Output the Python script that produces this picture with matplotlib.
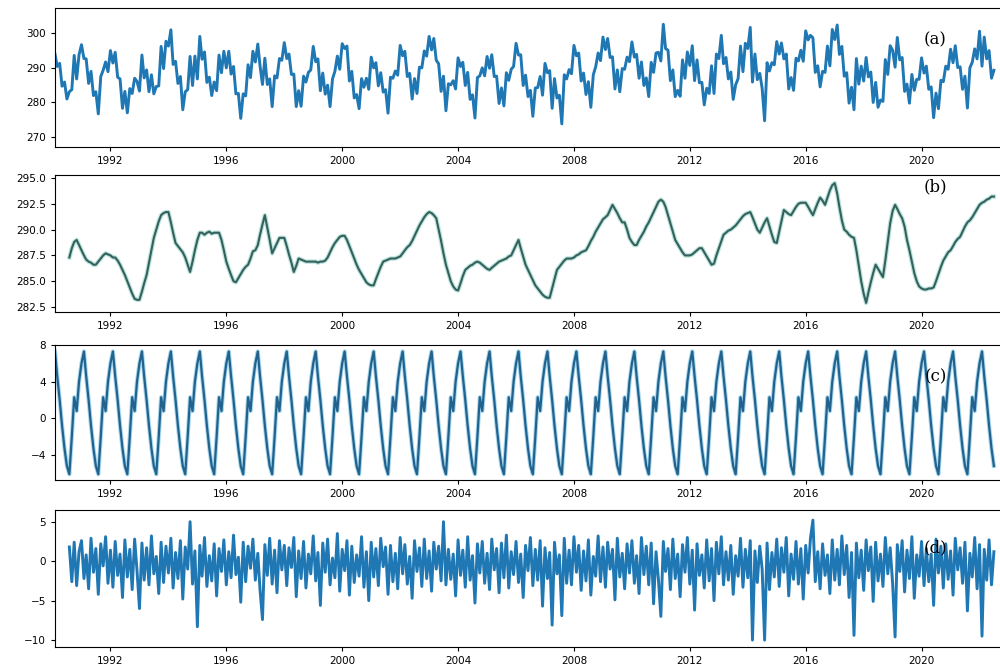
import numpy as np
import pandas as pd
import matplotlib
matplotlib.use('Agg')
import matplotlib.pyplot as plt
import matplotlib.dates as mdates

# monthly series, Feb 1990 .. Jul 2022
dates = pd.date_range('1990-02-01', periods=390, freq='MS')

# seasonal profile by calendar month (Jan..Dec)
season_profile = [6.0, 7.3, 4.6, 2.0, -0.8, -3.3, -5.2, -6.1, -2.0, 2.3, 0.8, 4.0]

# trend, Aug 1990 .. Jul 2022
trend_values = [
    287.3, 288.2, 288.8, 289.0, 288.5,
    288.0, 287.5, 287.1, 286.9, 286.8, 286.6, 286.6, 286.9, 287.2, 287.5, 287.7, 287.6,
    287.5, 287.3, 287.3, 287.0, 286.6, 286.1, 285.6, 285.0, 284.4, 283.8, 283.3, 283.2,
    283.2, 284.0, 284.8, 285.6, 286.8, 288.0, 289.2, 290.0, 290.8, 291.4, 291.6, 291.7,
    291.7, 290.7, 289.7, 288.7, 288.4, 288.1, 287.8, 287.3, 286.6, 285.9, 286.9, 288.0,
    289.0, 289.7, 289.7, 289.5, 289.7, 289.8, 289.6, 289.7, 289.7, 289.7, 289.0, 288.0,
    286.9, 286.2, 285.6, 285.0, 284.9, 285.3, 285.7, 286.1, 286.4, 286.6, 287.2, 287.9,
    288.0, 288.5, 289.5, 290.5, 291.4, 290.2, 289.0, 287.7, 288.2, 288.7, 289.2, 289.2,
    289.2, 288.4, 287.6, 286.8, 285.9, 286.5, 287.2, 287.1, 287.0, 286.9, 286.9, 286.9,
    286.9, 286.9, 286.8, 286.9, 286.9, 287.0, 287.3, 287.8, 288.3, 288.7, 289.0, 289.3,
    289.4, 289.4, 289.0, 288.4, 287.8, 287.2, 286.6, 286.1, 285.7, 285.3, 284.9, 284.7,
    284.6, 284.6, 285.2, 285.8, 286.4, 286.9, 287.0, 287.1, 287.2, 287.2, 287.2, 287.3,
    287.4, 287.7, 288.0, 288.3, 288.5, 288.9, 289.4, 289.9, 290.4, 290.8, 291.2, 291.5,
    291.7, 291.6, 291.4, 291.1, 290.0, 288.9, 287.7, 286.6, 285.8, 285.0, 284.5, 284.2,
    284.1, 284.8, 285.5, 286.1, 286.3, 286.5, 286.6, 286.8, 286.9, 286.8, 286.6, 286.4,
    286.2, 286.1, 286.3, 286.5, 286.7, 286.9, 287.0, 287.1, 287.2, 287.4, 287.5, 288.0,
    288.5, 289.0, 288.2, 287.4, 286.6, 286.1, 285.6, 285.1, 284.6, 284.3, 284.0, 283.7,
    283.5, 283.4, 283.4, 284.3, 285.2, 286.1, 286.4, 286.7, 287.0, 287.2, 287.2, 287.2,
    287.3, 287.5, 287.6, 287.8, 287.9, 288.0, 288.4, 288.9, 289.3, 289.8, 290.2, 290.6,
    291.0, 291.2, 291.4, 291.9, 292.4, 292.0, 291.6, 291.1, 290.7, 290.7, 290.0, 289.2,
    288.8, 288.5, 288.5, 289.0, 289.4, 289.8, 290.3, 290.7, 291.2, 291.7, 292.2, 292.7,
    292.9, 292.7, 292.2, 291.4, 290.6, 289.8, 289.0, 288.6, 288.2, 287.8, 287.5, 287.5,
    287.5, 287.6, 287.8, 288.0, 288.2, 288.2, 287.8, 287.4, 287.0, 286.6, 286.7, 287.5,
    288.2, 288.9, 289.5, 289.7, 289.9, 290.0, 290.2, 290.4, 290.7, 291.0, 291.3, 291.5,
    291.6, 291.7, 291.2, 290.6, 290.0, 289.7, 290.2, 290.7, 291.1, 290.3, 289.5, 288.8,
    288.7, 289.8, 290.8, 291.9, 291.7, 291.5, 291.4, 291.8, 292.2, 292.5, 292.6, 292.6,
    292.6, 292.2, 291.8, 291.4, 292.0, 292.6, 293.1, 292.8, 292.4, 293.1, 293.8, 294.3,
    294.5, 293.5, 292.2, 290.9, 290.0, 289.8, 289.5, 289.3, 289.2, 288.0, 286.5, 285.0,
    283.8, 282.9, 283.9, 284.9, 285.8, 286.6, 286.2, 285.8, 285.4, 287.0, 288.8, 290.6,
    291.8, 292.4, 292.0, 291.5, 291.1, 290.3, 289.0, 288.0, 286.9, 285.8, 285.0, 284.5,
    284.3, 284.2, 284.2, 284.3, 284.3, 284.4, 285.0, 285.7, 286.4, 287.0, 287.4, 287.8,
    288.0, 288.4, 288.8, 289.1, 289.3, 289.8, 290.3, 290.7, 290.9, 291.2, 291.6, 292.0,
    292.4, 292.6, 292.7, 292.9, 293.0, 293.2, 293.2,
]

# residual, Aug 1990 .. Jul 2022
resid_values = [
    1.8, -2.6, 2.4, -3.1, 1.2,
    2.6, -2.2, 0.8, -3.5, 2.9, -1.4, 1.6, -4.2, 2.2, -0.6, 3.1, -2.8,
    1.4, -3.3, 2.5, -1.8, 0.9, -4.6, 2.7, -2.0, 1.5, -3.6, 2.8, -1.2,
    -6.0, 2.3, -2.4, 1.7, -3.0, 3.2, -1.6, 0.6, -4.1, 2.4, -2.7, 1.9,
    -1.5, 2.9, -3.4, 1.1, -2.2, 2.6, -4.8, 1.8, -1.0, 5.0, -2.9, 1.3,
    -8.3, 2.0, -1.9, 3.0, -3.2, 0.7, -2.5, 2.2, -4.4, 1.6, -1.3, 2.7,
    -3.0, 1.2, -2.1, 3.3, -1.7, 0.5, -5.2, 2.4, -2.6, 1.9, -0.9, 2.8,
    -2.4, 1.0, -3.6, -7.4, 2.1, -1.8, 2.9, -2.9, 1.4, -4.0, 2.6, -1.1,
    2.0, -3.1, 1.7, -0.8, 3.0, -4.5, 1.3, -2.2, 2.5, -3.4, 0.9, -1.6,
    3.2, -2.5, 1.1, -5.6, 2.3, -1.4, 2.8, -3.0, 0.4, -2.1, 3.5, -3.8,
    1.5, -1.2, 2.6, -4.3, 1.9, -2.7, 0.8, -1.9, 3.1, -3.3, 1.2, -5.0,
    2.4, -2.0, 1.6, -3.1, 2.9, -0.7, 1.8, -4.2, 2.0, -2.6, 1.0, -3.5,
    3.0, -1.6, 2.1, -2.9, 0.6, -4.7, 2.6, -1.3, 1.7, -3.2, 2.8, -2.2,
    1.3, -3.8, 2.4, -1.0, 1.9, -2.5, 5.0, -3.0, 1.5, -2.3, 0.9, -4.4,
    2.7, -1.8, 1.4, -3.3, 3.1, -2.4, 0.7, -5.3, 2.2, -1.5, 2.5, -2.8,
    1.0, -3.6, 2.8, -1.1, 1.6, -4.0, 2.3, -2.1, 3.3, -3.4, 1.2, -1.7,
    2.5, -2.7, 0.9, -4.6, 2.0, -1.2, 3.0, -3.1, 1.5, -2.4, 2.6, -5.7,
    1.7, -2.2, 1.1, -8.1, 2.4, -1.6, 0.8, -6.9, 2.9, -2.8, 1.4, -3.0,
    3.1, -1.4, 2.0, -3.7, 1.3, -2.5, 2.7, -4.3, 0.6, -1.9, 3.2, -2.6,
    1.8, -3.3, 2.4, -1.0, 1.5, -4.9, 2.9, -2.0, 1.0, -3.5, 2.2, -1.5,
    2.6, -2.8, 0.7, -4.1, 3.0, -1.7, 1.9, -3.0, 2.3, -5.4, 1.2, -2.3,
    -7.0, 2.5, -1.3, 1.6, -3.6, 2.8, -2.2, 0.9, -4.5, 2.1, -1.4, 3.0,
    -2.9, 1.4, -6.2, 2.2, -1.8, 0.8, -3.4, 2.7, -2.5, 1.6, -5.0, 2.4,
    -1.6, 3.1, -3.0, 1.2, -2.4, 2.0, -4.2, 0.7, -1.9, 2.9, -3.3, 1.5,
    -2.1, 2.6, -10.0, 1.3, -2.7, 1.9, -1.0, -10.0, 2.3, -3.6, 1.1, -2.0,
    2.8, -3.2, 1.7, -1.4, 3.0, -4.4, 0.9, -2.3, 2.5, -2.9, 1.6, -4.8,
    2.0, -1.5, 2.9, 5.2, -2.6, 1.2, -3.5, 2.2, -1.8, 0.8, -4.1, 2.7,
    -2.4, 1.5, -3.0, 3.2, -1.7, 2.0, -4.6, 1.1, -9.4, 2.3, -2.1, 1.4,
    -3.7, 2.7, -1.2, 1.8, -5.1, 2.4, -2.5, 0.9, -3.2, 3.0, -1.6, 1.7,
    -2.8, -9.6, 2.1, -1.3, 2.6, -3.9, 1.4, -2.2, 3.1, -4.7, 0.8, -1.9,
    2.5, -3.1, 1.6, -2.6, 0.9, -5.6, 2.8, -1.5, 1.9, -3.4, 2.2, -2.3,
    1.3, -4.3, 2.9, -1.1, 1.7, -2.8, 2.4, -6.3, 1.0, -2.0, 3.0, -3.5,
    2.1, -9.5, 1.5, -2.4, 2.7, -3.0, 1.2,
]

# observed values for Feb..Jul 1990 (before trend starts)
obs_head = [293.9, 290.3, 291.2, 284.6, 285.8, 280.9]

trend = np.array(trend_values)
resid = np.array(resid_values)
seasonal = np.array([season_profile[d.month - 1] for d in dates])
observed = np.concatenate([obs_head, trend + seasonal[6:] + resid])
tdates = dates[6:]

fig = plt.figure(figsize=(10, 6.7), dpi=100)
blue = '#1f77b4'

# axes boxes [left, bottom, width, height]; right edge runs slightly past the image
boxes = [[0.055, 0.781, 0.955, 0.207],
         [0.055, 0.534, 0.955, 0.205],
         [0.055, 0.284, 0.955, 0.201],
         [0.055, 0.034, 0.955, 0.205]]
axes = [fig.add_axes(b) for b in boxes]
ax1, ax2, ax3, ax4 = axes

ax1.plot(dates, observed, color=blue, lw=2.1)
ax1.set_ylim(267.1, 307.2)
ax1.set_yticks([270, 280, 290, 300])

ax2.plot(tdates, trend, color='#8fd3c7', lw=3.2, alpha=0.6)
ax2.plot(tdates, trend, color='#35605c', lw=1.5)
ax2.set_ylim(282.0, 295.3)
ax2.set_yticks([282.5, 285.0, 287.5, 290.0, 292.5, 295.0])
ax2.yaxis.set_major_formatter(matplotlib.ticker.FormatStrFormatter('%.1f'))

ax3.plot(dates, seasonal, color='#7fc6e8', lw=3.0, alpha=0.7)
ax3.plot(dates, seasonal, color='#22628c', lw=1.6)
ax3.set_ylim(-6.7, 8.0)
ax3.set_yticks([-4, 0, 4, 8])

ax4.plot(tdates, resid, color=blue, lw=2.1)
ax4.set_ylim(-10.9, 6.5)
ax4.set_yticks([-10, -5, 0, 5])

labels = ['(a)', '(b)', '(c)', '(d)']
label_y = [0.77, 0.91, 0.76, 0.72]
for ax, lab, ly in zip(axes, labels, label_y):
    ax.set_xlim(pd.Timestamp('1990-02-01'), pd.Timestamp('2023-01-20'))
    ax.xaxis.set_major_locator(mdates.YearLocator(4))
    ax.xaxis.set_major_formatter(mdates.DateFormatter('%Y'))
    ax.tick_params(labelsize=7.5, length=3)
    ax.text(0.922, ly, lab, transform=ax.transAxes, fontsize=12,
            family='DejaVu Serif', ha='center', va='center')

fig.savefig('out.png', dpi=100)
